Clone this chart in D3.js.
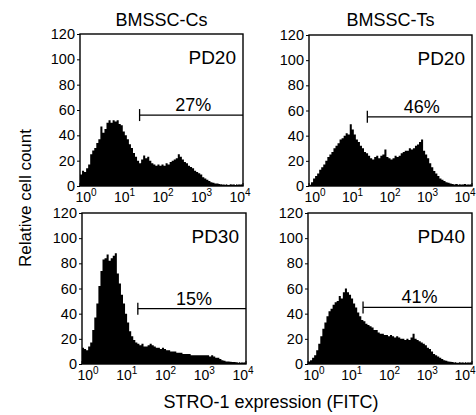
<!DOCTYPE html>
<html>
<head>
<meta charset="utf-8">
<script src="https://cdn.jsdelivr.net/npm/d3@7"></script>
<style>
body { margin: 0; background: #fff; }
svg { display: block; }
text { font-family: "Liberation Sans", Arial, sans-serif; fill: #000; }
</style>
</head>
<body>
<svg id="chart" width="476" height="415"></svg>
<script>
/*
 STRO-1 flow histograms, 2x2 panels
*/

const colTitles = ["BMSSC-Cs", "BMSSC-Ts"];
const panelLabels = ["PD20", "PD20", "PD30", "PD40"];
const gatePercents = ["27%", "46%", "15%", "41%"];
const gateStart = [29, 27, 23, 22];     // FITC value where the gate begins
const gateLevel = [56, 55, 44, 45];     // height of the gate bar (cell count units)
const yTicks = [0, 20, 40, 60, 80, 100, 120];
const xTickExps = [0, 1, 2, 3, 4];

// cell counts, 80 bins of 0.05 decade each from 10^0 to 10^4
const cs_pd20 = [9, 12, 11, 14, 17, 25, 28, 30, 34, 37, 47, 42, 45, 50, 52, 50, 52, 51, 52, 49,
    48, 43, 40, 37, 33, 30, 26, 23, 20, 18, 21, 24, 22, 23, 20, 18, 17, 16, 17, 16,
    17, 16, 18, 17, 19, 20, 21, 22, 25, 23, 21, 19, 18, 16, 15, 14, 12, 11, 10, 9,
    7, 6, 5, 4, 3, 2.5, 2, 2, 1.5, 1, 1.2, 1, 0.8, 1, 1.2, 1, 0.8, 1, 1, 1];
const ts_pd20 = [1, 3, 6, 8, 10, 13, 15, 17, 20, 23, 25, 27, 30, 32, 34, 37, 38, 40, 42, 41,
    49, 45, 41, 37, 35, 32, 30, 27, 26, 24, 22, 21, 23, 24, 22, 24, 25, 29, 23, 22,
    21, 22, 24, 23, 24, 26, 27, 28, 28, 30, 29, 30, 32, 33, 35, 37, 28, 25, 22, 18,
    15, 12, 10, 8, 6, 5, 4, 3, 2.5, 2, 1.5, 1.2, 1.5, 1, 1.2, 1, 1.5, 1, 1, 1];
const cs_pd30 = [13, 12, 11, 14, 17, 27, 37, 48, 62, 74, 83, 84, 87, 82, 84, 86, 88, 72, 64, 55,
    48, 40, 33, 26, 22, 19, 17, 16, 15, 16, 14, 14, 15, 16, 15, 14, 13, 13, 12, 13,
    12, 11, 11, 10, 10, 10, 9, 9, 9, 8, 8, 8, 8, 7, 7, 7, 7, 7, 7, 7,
    7, 7, 6, 7, 6, 5, 5, 4, 3, 2.5, 2, 2, 1.8, 1.5, 1.5, 1.2, 1, 1, 1, 1];
const ts_pd40 = [2, 3, 5, 7, 11, 16, 22, 28, 33, 38, 42, 44, 47, 49, 50, 54, 52, 57, 60, 57,
    55, 52, 48, 45, 41, 38, 35, 34, 32, 31, 30, 29, 27, 27, 25, 24, 24, 23, 23, 22,
    23, 22, 21, 22, 21, 20, 20, 19, 20, 19, 21, 24, 20, 19, 18, 17, 16, 15, 13, 12,
    10, 8, 7, 6, 5, 4, 3, 2.5, 2, 1.8, 1.5, 1.2, 1, 1, 1.2, 1, 1, 1, 1, 1];

const seriesByPanel = [cs_pd20, ts_pd20, cs_pd30, ts_pd40];

// plot frames in pixels
const frames = [
    { x0: 80,  x1: 243, y0: 34,  y1: 186 },
    { x0: 309, x1: 472, y0: 35,  y1: 186 },
    { x0: 82,  x1: 246, y0: 213, y1: 364 },
    { x0: 308, x1: 472, y0: 213, y1: 364 },
];

const svg = d3.select("#chart");
const binStep = 0.05;

seriesByPanel.forEach((values, p) => {
    const f = frames[p];
    const x = d3.scaleLog().domain([1, 1e4]).range([f.x0, f.x1]);
    const y = d3.scaleLinear().domain([0, 120]).range([f.y1, f.y0]);
    const g = svg.append("g");

    // histogram as a stepped area
    const pts = values.map((v, i) => ({ e: Math.pow(10, i * binStep), v: v }));
    pts.push({ e: 1e4, v: values[values.length - 1] });
    g.append("path")
        .datum(pts)
        .attr("fill", "#000")
        .attr("d", d3.area()
            .curve(d3.curveStepAfter)
            .x(d => x(d.e))
            .y0(y(0))
            .y1(d => y(d.v)));

    // frame
    g.append("rect")
        .attr("x", f.x0).attr("y", f.y0)
        .attr("width", f.x1 - f.x0).attr("height", f.y1 - f.y0)
        .attr("fill", "none").attr("stroke", "#000").attr("stroke-width", 1.4);

    // y axis
    g.append("g")
        .attr("transform", `translate(${f.x0},0)`)
        .call(d3.axisLeft(y).tickValues(yTicks).tickSize(3).tickPadding(2))
        .call(a => a.select(".domain").remove())
        .call(a => a.selectAll("text")
            .attr("font-size", 14.5)
            .attr("font-family", null));

    // minor log ticks inside the bottom edge
    const minors = [];
    for (let d = 0; d < 4; d++)
        for (let m = 2; m <= 9; m++) minors.push(m * Math.pow(10, d));
    g.append("g").selectAll("line")
        .data(minors)
        .join("line")
        .attr("x1", d => x(d)).attr("x2", d => x(d))
        .attr("y1", f.y1).attr("y2", f.y1 - 2)
        .attr("stroke", "#000").attr("stroke-width", 0.8);
    g.append("g").selectAll("line")
        .data(xTickExps)
        .join("line")
        .attr("x1", d => x(Math.pow(10, d))).attr("x2", d => x(Math.pow(10, d)))
        .attr("y1", f.y1).attr("y2", f.y1 - 3)
        .attr("stroke", "#000").attr("stroke-width", 1);

    // x tick labels, 10 with a superscript exponent
    const rightPad = f.x1 > 400 ? 7 : 3;
    const lx = d3.scaleLinear().domain([0, 4]).range([f.x0 + 6, f.x1 - rightPad]);
    const lab = g.append("g").selectAll("text")
        .data(xTickExps)
        .join("text")
        .attr("x", d => lx(d))
        .attr("y", f.y1 + 16)
        .attr("text-anchor", "middle")
        .attr("font-size", 14);
    lab.append("tspan").text("10");
    lab.append("tspan")
        .attr("dy", -6)
        .attr("font-size", 10)
        .text(d => d);

    // gate bar
    const gx0 = x(gateStart[p]), gx1 = x(1e4), gy = y(gateLevel[p]);
    g.append("line")
        .attr("x1", gx0).attr("x2", gx1).attr("y1", gy).attr("y2", gy)
        .attr("stroke", "#000").attr("stroke-width", 1.3);
    g.append("line")
        .attr("x1", gx0).attr("x2", gx0).attr("y1", gy - 6).attr("y2", gy + 6)
        .attr("stroke", "#000").attr("stroke-width", 1.3);
    g.append("text")
        .attr("x", (gx0 + gx1) / 2 + 2)
        .attr("y", gy - 4)
        .attr("text-anchor", "middle")
        .attr("font-size", 18)
        .text(gatePercents[p]);

    // PD label
    g.append("text")
        .attr("x", f.x1 - 7)
        .attr("y", f.y0 + 30)
        .attr("text-anchor", "end")
        .attr("font-size", 19)
        .text(panelLabels[p]);

    if (p < 2) {
        g.append("text")
            .attr("x", (f.x0 + f.x1) / 2)
            .attr("y", 26)
            .attr("text-anchor", "middle")
            .attr("font-size", 18)
            .text(colTitles[p]);
    }
});

svg.append("text")
    .attr("transform", "translate(31,198) rotate(-90)")
    .attr("text-anchor", "middle")
    .attr("font-size", 17)
    .text("Relative cell count");

svg.append("text")
    .attr("x", 271)
    .attr("y", 408)
    .attr("text-anchor", "middle")
    .attr("font-size", 18)
    .text("STRO-1 expression (FITC)");
</script>
</body>
</html>
